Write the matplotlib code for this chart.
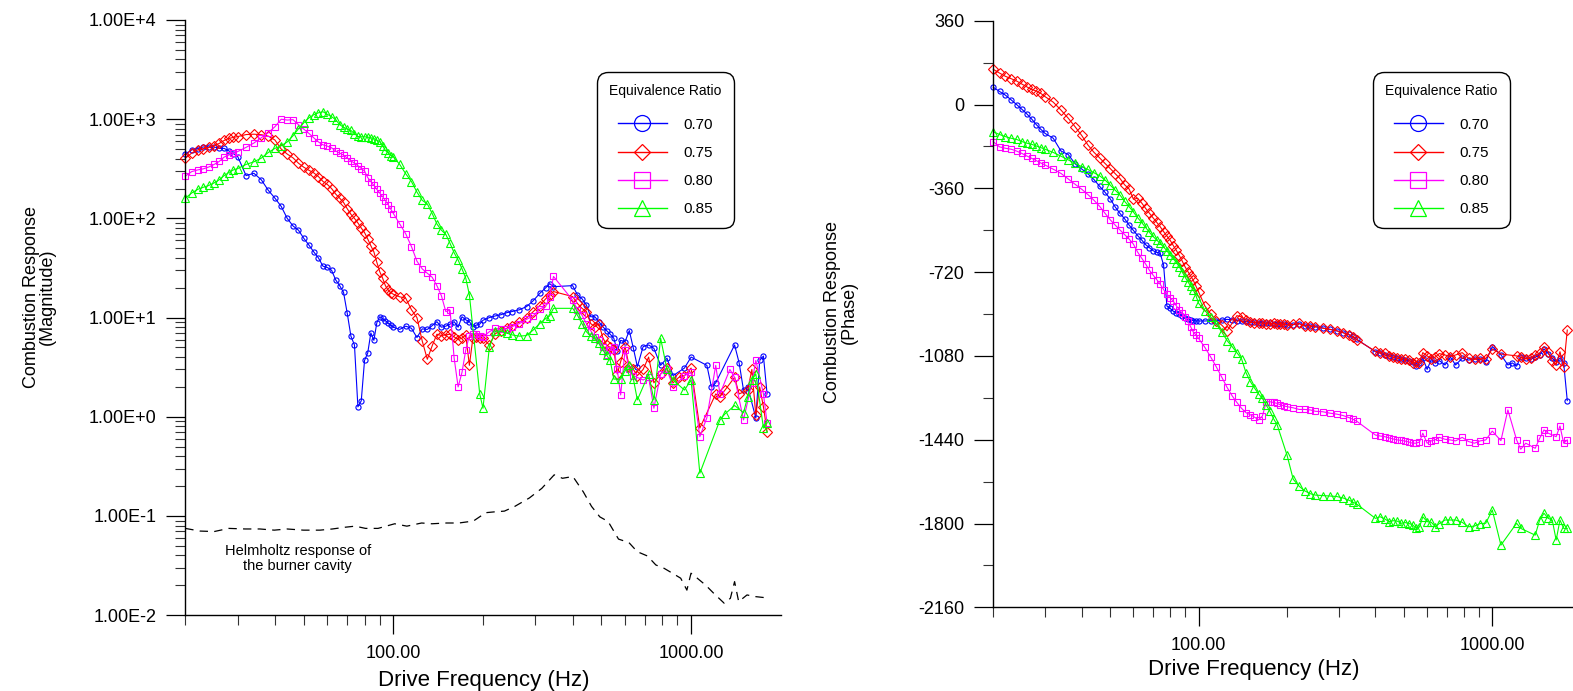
import numpy as np
import matplotlib
matplotlib.use("Agg")
import matplotlib.pyplot as plt
from matplotlib.lines import Line2D
from matplotlib.ticker import (FixedLocator, FixedFormatter, LogLocator,
                               FuncFormatter, MultipleLocator, NullFormatter)

plt.rcParams['font.family'] = ['Liberation Sans', 'DejaVu Sans']
plt.rcParams['axes.unicode_minus'] = False
plt.rcParams['lines.scale_dashes'] = False

# ---------------- data ----------------
FREQ = [20, 21, 22, 23, 24, 25, 26, 27, 28, 29, 30,
        32, 34, 36, 38, 40, 42, 44, 46, 48, 50, 52, 54, 56, 58, 60, 62, 64, 66, 68, 70,
        72, 74, 76, 78, 80, 82, 84, 86, 88, 90, 92, 94, 96, 98, 100,
        105, 110, 115, 120, 125, 130, 135, 140, 145, 150, 155, 160, 165, 170, 175, 180,
        185, 190, 195, 200,
        210, 220, 230, 240, 250, 265, 280, 295, 310, 325, 335, 345,
        400, 415, 430, 445, 460, 475, 490, 505, 520, 535,
        550, 565, 580, 600, 620, 640, 660, 690, 720, 750,
        790, 830, 870, 910, 950, 1000, 1070, 1130, 1170, 1210,
        1250, 1300, 1350, 1400, 1450, 1500, 1550, 1600, 1650, 1700,
        1750, 1800]

RATIOS = ['0.70', '0.75', '0.80', '0.85']

# combustion response magnitude
MAG_070 = [445, 490, 505, 525, 525, 525, 508, 508, 480, 450, 420,
           270, 285, 245, 192, 160, 132, 100, 84, 76, 63,
           54, 46, 40, 33, 32, 30, 24, 21, 18, 11,
           6.5, 5.3, 1.26, 1.45, 3.7, 4.4, 7.0, 5.9, 8.9, 10.2,
           9.8, 9.3, 8.8, 8.4, 8.0,
           7.6, 8.2, 7.8, 6.3, 7.7, 7.6, 8.3, 9.1, 8.0, 8.2,
           8.6, 9.1, 8.0, 10.2, 9.5, 9.1, 8.1, 8.4, 8.6, 9.4,
           10.0, 10.4, 10.7, 11.2, 11.5, 12.0, 12.9, 14.8, 17.5, 20, 22, 20.5,
           21, 17, 15.5, 13.4, 10.2, 10.2, 9.1, 8.1, 7.4, 6.8,
           6.2, 4.6, 5.9, 5.7, 7.4, 4.9, 3.2, 5.1, 5.3, 4.9,
           3.3, 3.9, 2.6, None, 3.1, 4.0, None, 3.3, 2.0, 2.2,
           None, None, None, 5.3, 3.5, 1.86, 2.0, None, 0.97, 3.7,
           4.1, 1.7]

MAG_075 = [404, 455, 490, 505, 520, 540, 570, 610, 640, 655, 668,
           700, 706, 698, 675, 617, 500, 445, 408, 360, 328,
           306, 288, 264, 236, 220, 200, 176, 160, 145, 125,
           110, 100, 90, 80, 72, 62, 53, 46, 36, 29,
           25, 21, 19, 17.8, 17.2,
           16.2, 15.7, 12, 10, 5.8, 3.8, 5.2, 6.8, 6.6, 6.7,
           6.8, 6.4, 6.0, 6.2, 6.7, 3.3, 6.3, 6.4, 6.3, 6.2,
           5.3, 6.9, 7.3, 7.8, 8.3, 9.0, 9.9, 11.5, 13.2, 15.5, 16.9, 18.3,
           16.3, 13.9, 12.4, 11.5, 8.7, 8.1, 8.7, 6.3, 5.3, 5.0,
           4.7, 2.7, 3.6, 5.1, 3.2, 3.0, 2.6, 3.0, 4.0, 2.2,
           2.7, 3.1, 2.2, 2.5, 2.6, 3.1, 0.77, None, None, 1.7,
           1.6, 1.86, None, 2.5, 1.7, None, 1.86, 3.0, 1.04, 2.0,
           1.26, 0.71]

MAG_080 = [267, 296, 308, 316, 330, 350, 375, 415, 435, 453, 472,
           520, 575, 650, 730, 840, 1000, 980, 990, 880, 794,
           720, 650, 590, 552, 535, 515, 478, 455, 435, 405,
           382, 360, 340, 318, 300, 258, 235, 215, 196, 180,
           166, 151, 138, 124, 112,
           88, 70, 52, 37, 31, 28, 25.5, 21, 16.6, 11.5,
           11.9, 3.9, 2.0, 2.8, 4.7, 6.6, 6.8, 6.9, 6.6, 6.4,
           7.2, 7.8, 7.6, 7.7, 8.1, 8.7, 9.6, 10.4, 12.2, 13, 16.3, 26,
           15.0, 12, 10.6, 8.7, 7.4, 6.4, 5.9, 5.0, 4.2, 4.7,
           5.1, 3.0, 1.66, 4.7, 3.0, 2.6, None, 2.35, 2.5, 1.22,
           2.7, 3.0, 2.0, None, 2.6, 2.8, 0.63, 0.98, None, 3.3,
           1.7, None, 3.0, 2.5, None, 0.93, None, 2.2, 3.7, None,
           1.7, 0.87]

MAG_085 = [160, 180, 196, 206, 215, 228, 245, 270, 290, 308, 318,
           350, 372, 405, 462, 508, 540, 590, 680, 800, 920,
           1030, 1110, 1160, 1190, 1120, 1060, 990, 880, 830, 795,
           770, 715, 670, 665, 665, 660, 650, 638, 615, 595,
           540, 485, 455, 430, 419,
           350, 282, 235, 184, 152, 140, 112, 88, 76, 69,
           56, 45, 38, 31, 25, 17, None, None, 1.7, 1.22,
           5.0, 7.3, 7.3, 7.0, 6.7, 6.5, 6.6, 7.5, 8.7, 9.8, 10.4, 12.4,
           12.4, 10.6, 8.7, 7.2, 6.5, 6.2, 5.5, 4.7, 4.2, 3.7,
           2.4, None, 2.4, 2.9, 3.3, 2.4, 1.48, None, 2.7, 1.48,
           6.2, 3.0, 2.35, None, 1.86, 2.35, 0.27, None, None, None,
           0.93, 1.07, None, 1.3, None, 1.1, 1.6, 2.35, 2.7, None,
           0.77, 0.87]

# combustion response phase (degrees)
PH_070 = [74, 56, 40, 20, 0, -20, -40, -62, -86, -106, -124,
          -145, -200, -215, -255, -277, -298, -322, -351, -377, -405,
          -440, -468, -491, -518, -541, -563, -582, -602, -615, -628,
          -635, -639, -690, -866, -876, -888, -894, -902, -909, -917,
          -923, -926, -929, -930, -930,
          -930, -929, -928, -926, -923, -925, -928, -930, -932, -934,
          -935, -937, -938, -939, -940, -941, -942, -943, -944, -946,
          -946, -942, -950, -951, -955, -960, -966, -972, -980, -988, -996, -1008,
          -1062, -1068, -1076, -1080, -1086, -1090, -1095, -1098, -1100, -1105,
          -1124, -1110, -1090, -1138, -1095, -1112, -1100, -1119, -1085, -1119,
          -1090, -1098, -1092, -1095, -1105, -1040, -1075, -1119, -1110, -1124,
          -1085, -1090, -1095, -1085, -1076, -1050, -1070, -1090, -1105, -1090,
          -1110, -1272]

PH_075 = [151, 135, 121, 111, 101, 88, 76, 65, 58, 48, 34,
          10, -24, -59, -96, -133, -174, -205, -229, -253, -275,
          -297, -318, -345, -363, -407, -403, -423, -446, -467, -487,
          -506, -525, -546, -565, -583, -606, -627, -649, -673, -698,
          -718, -737, -756, -781, -805,
          -865, -900, -930, -948, -972, -940, -907, -912, -925, -935,
          -937, -940, -938, -942, -943, -938, -944, -945, -942, -947,
          -945, -940, -952, -950, -954, -961, -966, -972, -980, -990, -998, -1010,
          -1060, -1066, -1069, -1080, -1086, -1090, -1093, -1095, -1098, -1112,
          -1105, -1109, -1066, -1080, -1092, -1085, -1070, -1076, -1083, -1076,
          -1066, -1090, -1095, -1090, -1092, -1050, -1072, None, None, -1080,
          -1085, -1092, -1090, -1078, -1068, -1040, -1062, -1100, -1119, -1062,
          -1129, -969]

PH_080 = [-160, -182, -188, -192, -200, -210, -221, -231, -241, -251, -260,
          -278, -296, -320, -343, -364, -387, -411, -437, -467, -495,
          -518, -539, -559, -578, -600, -634, -660, -685, -712, -733,
          -752, -772, -795, -815, -830, -845, -865, -882, -897, -915,
          -932, -955, -978, -990, -1005,
          -1043, -1085, -1128, -1172, -1215, -1251, -1280, -1305, -1324, -1333,
          -1343, -1355, -1338, -1277, -1277, -1280, -1284, -1290, -1295, -1298,
          -1303, -1310, -1310, -1312, -1318, -1320, -1326, -1330, -1336, -1345, -1352, -1360,
          -1420, -1424, -1427, -1432, -1437, -1441, -1443, -1446, -1450, -1455,
          -1455, -1450, -1412, -1455, -1445, -1440, -1430, -1438, -1441, -1445,
          -1430, -1448, -1455, -1445, -1441, -1403, -1444, -1312, None, -1441,
          -1481, -1455, None, -1477, -1434, -1398, -1412, None, -1427, -1381,
          -1455, -1441]

PH_085 = [-117, -129, -138, -145, -150, -159, -166, -171, -178, -185, -192,
          -206, -222, -238, -253, -267, -279, -293, -306, -324, -346,
          -368, -389, -416, -439, -462, -486, -507, -528, -549, -567,
          -582, -597, -612, -628, -647, -662, -679, -697, -720, -742,
          -762, -780, -798, -822, -854,
          -885, -913, -944, -978, -1014, -1040, -1066, -1092, -1152, -1190,
          -1218, -1243, -1263, -1292, -1318, -1350, -1375, None, None, -1506,
          -1610, -1640, -1660, -1672, -1678, -1680, -1682, -1684, -1690, -1700, -1708, -1716,
          -1778, -1771, -1780, -1792, -1788, -1790, -1799, -1796, -1800, -1805,
          -1821, -1815, -1771, -1792, -1795, -1814, -1800, -1785, -1785, -1785,
          -1795, -1814, -1811, -1800, -1799, -1742, -1893, None, None, -1799,
          -1821, None, None, -1850, -1785, -1756, -1778, -1785, -1871, -1785,
          -1821, -1821]

# Helmholtz response of the burner cavity (dashed)
HELM_FREQ = [20, 22.4, 25, 28, 31.8, 35.6, 39.8, 43.9, 49.9, 56.7, 62.4, 68.7,
             74.4, 80.6, 88.8, 101, 111, 124.4, 134.7, 150.7, 166, 185.7, 204.4,
             218, 236, 255.8, 286.3, 315.2, 346.9, 369.8, 400.9, 434.5, 463,
             493.7, 526.4, 570.4, 618.2, 659.3, 713.9, 761.3, 811.5, 865.5,
             922.8, 968.1, 999.4, 1049, 1119, 1192, 1292, 1355, 1400, 1445,
             1541, 1643, 1781]
HELM_MAG = [0.075, 0.0705, 0.0697, 0.075, 0.074, 0.074, 0.072, 0.074, 0.072,
            0.072, 0.074, 0.077, 0.079, 0.075, 0.075, 0.0835, 0.079, 0.085,
            0.0835, 0.085, 0.085, 0.089, 0.108, 0.110, 0.112, 0.125, 0.152,
            0.19, 0.26, 0.24, 0.25, 0.175, 0.125, 0.098, 0.088, 0.0585, 0.054,
            0.0437, 0.0395, 0.0321, 0.0297, 0.0265, 0.0236, 0.0179, 0.0265,
            0.0236, 0.0201, 0.0166, 0.0132, 0.0148, 0.0218, 0.0137, 0.016,
            0.0154, 0.0150]

XTICK_VALUES = [100, 1000]
XTICK_LABELS = ['100.00', '1000.00']
XMINOR = [20, 30, 40, 50, 60, 70, 80, 90, 200, 300, 400, 500, 600, 700, 800, 900]

COLORS = ['#0000ff', '#ff0000', '#ff00ff', '#00ff00']
MARKERS = ['o', 'D', 's', '^']
MS_PLOT = [3.7, 4.7, 4.4, 5.5]
MS_LEG = [11.5, 8.5, 12, 11]

# ---------------- figure ----------------
W, H = 1573, 691
fig = plt.figure(figsize=(W / 100, H / 100), dpi=100)
fig.patch.set_facecolor('white')


def px_axes(x0, y0, x1, y1):
    return fig.add_axes([x0 / W, 1 - y1 / H, (x1 - x0) / W, (y1 - y0) / H])


ax1 = px_axes(185.3, 20.0, 780.7, 615.2)
ax2 = px_axes(993.3, 20.7, 1580.7, 607.3)


def style(ax):
    for s in ['top', 'right']:
        ax.spines[s].set_visible(False)
    for s in ['left', 'bottom']:
        ax.spines[s].set_linewidth(1.0)
        ax.spines[s].set_color('black')
    ax.set_xscale('log')
    ax.set_xlim(20, 2000)
    ax.xaxis.set_major_locator(FixedLocator(XTICK_VALUES))
    ax.xaxis.set_major_formatter(FixedFormatter(XTICK_LABELS))
    ax.xaxis.set_minor_locator(FixedLocator(XMINOR))
    ax.xaxis.set_minor_formatter(NullFormatter())
    ax.tick_params(which='major', direction='out', length=14, width=0.9,
                   labelsize=13, colors='black')
    ax.tick_params(which='minor', direction='out', length=7.2, width=0.8,
                   colors='#333333')
    ax.tick_params(axis='x', which='major', pad=7.5)
    ax.tick_params(axis='y', which='major', pad=7)


style(ax1)
style(ax2)

# left panel: magnitude
ax1.set_yscale('log')
ax1.set_ylim(1e-2, 1e4)
ax1.yaxis.set_major_locator(FixedLocator([1e-2, 1e-1, 1e0, 1e1, 1e2, 1e3, 1e4]))
ax1.yaxis.set_major_formatter(
    FuncFormatter(lambda v, p: "1.00E%+d" % int(round(np.log10(v)))))
ax1.yaxis.set_minor_locator(LogLocator(base=10, subs=np.arange(2, 10), numticks=100))
ax1.yaxis.set_minor_formatter(NullFormatter())

# right panel: phase
ax2.set_ylim(-2160, 360)
ax2.yaxis.set_major_locator(MultipleLocator(360))
ax2.yaxis.set_minor_locator(MultipleLocator(180))
ax2.yaxis.set_major_formatter(FuncFormatter(lambda v, p: "%d" % int(round(v))))

freq = np.array(FREQ, dtype=float)
for ax, series in ((ax1, [MAG_070, MAG_075, MAG_080, MAG_085]),
                   (ax2, [PH_070, PH_075, PH_080, PH_085])):
    for vals, c, m, ms in zip(series, COLORS, MARKERS, MS_PLOT):
        y = np.array(vals, dtype=float)
        ok = np.isfinite(y)
        ax.plot(freq[ok], y[ok], color=c, lw=0.8, marker=m, ms=ms,
                mfc='none', mec=c, mew=0.8, clip_on=False)

ax1.plot(HELM_FREQ, HELM_MAG, color='black', lw=0.9, dashes=(6, 4.5))
ax1.text(47.7, 0.0375, "Helmholtz response of\nthe burner cavity",
         ha='center', va='center', fontsize=10.5, linespacing=1.05)

# labels
ax1.set_xlabel('Drive Frequency (Hz)', fontsize=16)
ax1.xaxis.label.set_va('center')
ax1.xaxis.set_label_coords(0.5017, -0.1105)
ax2.set_xlabel('Drive Frequency (Hz)', fontsize=16)
ax2.xaxis.label.set_va('center')
ax2.xaxis.set_label_coords(0.443, -0.1055)

ax1.set_ylabel('Combustion Response\n(Magnitude)', fontsize=13, linespacing=0.95)
ax1.yaxis.label.set_va('center')
ax1.yaxis.set_label_coords(-0.2450, 0.5346)
ax2.set_ylabel('Combustion Response\n(Phase)', fontsize=13, linespacing=0.95)
ax2.yaxis.label.set_va('center')
ax2.yaxis.set_label_coords(-0.2590, 0.5034)

# legends
handles = [Line2D([], [], color=c, marker=m, ms=ms, mfc='none', mec=c, mew=0.9, lw=1.0)
           for c, m, ms in zip(COLORS, MARKERS, MS_LEG)]
for ax, x0 in ((ax1, 597), (ax2, 1373)):
    leg = ax.legend(handles, RATIOS, title='Equivalence Ratio', loc='upper left',
                    bbox_to_anchor=(x0 / W, 1 - 72 / H), bbox_transform=fig.transFigure,
                    borderaxespad=0, fontsize=11, title_fontsize=10, frameon=True,
                    fancybox=True, framealpha=1, edgecolor='black', borderpad=0.8,
                    labelspacing=0.92, handlelength=3.2, handletextpad=1.1)
    leg._legend_box.sep = 0.92 * 11 + 4.0
    fr = leg.get_frame()
    fr.set_linewidth(1.0)
    fr.set_boxstyle('round', pad=0, rounding_size=0.7)

fig.savefig('out.png', dpi=100, facecolor='white')
